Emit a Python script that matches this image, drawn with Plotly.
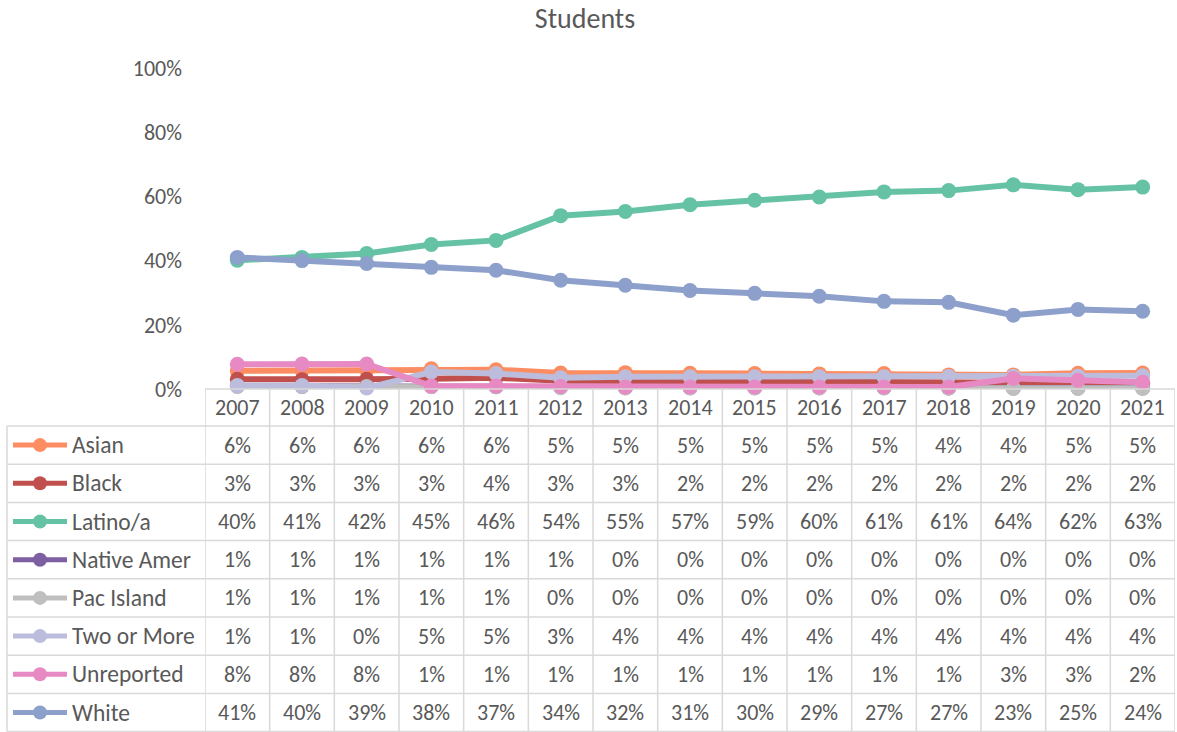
import plotly.graph_objects as go

# ---- data (values in %) ----
years = ["2007", "2008", "2009", "2010", "2011", "2012", "2013", "2014",
         "2015", "2016", "2017", "2018", "2019", "2020", "2021"]

asian = [5.7, 5.8, 5.9, 6.3, 6.0, 5.0, 5.1, 4.9, 4.8, 4.7, 4.8, 4.4, 4.4, 4.9, 5.0]
black = [3.0, 2.9, 3.0, 3.2, 3.5, 2.6, 2.5, 2.2, 2.2, 2.1, 2.1, 2.0, 1.9, 1.8, 1.8]
latino = [40.1, 41.0, 42.2, 45.0, 46.3, 54.0, 55.3, 57.4, 58.8, 59.8, 61.4, 61.8, 63.6, 62.1, 62.9]
native = [0.9, 0.8, 0.8, 0.8, 0.7, 0.6, 0.4, 0.4, 0.4, 0.4, 0.4, 0.3, 0.3, 0.3, 0.3]
pac_island = [0.8, 0.8, 0.8, 0.7, 0.7, 0.4, 0.3, 0.3, 0.3, 0.3, 0.3, 0.3, 0.2, 0.2, 0.2]
two_more = [1.1, 1.1, 0.3, 5.3, 4.8, 3.5, 3.8, 3.8, 3.8, 3.8, 3.8, 3.9, 4.0, 4.0, 4.1]
unreported = [7.7, 7.8, 7.8, 0.9, 0.9, 0.8, 0.6, 0.6, 0.6, 0.6, 0.6, 0.6, 3.3, 2.7, 2.1]
white = [41.0, 40.0, 39.1, 37.9, 37.0, 33.9, 32.3, 30.7, 29.8, 28.9, 27.3, 27.0, 23.0, 24.8, 24.2]

# table labels as printed in the chart's data table
asian_lbl = ["6%", "6%", "6%", "6%", "6%", "5%", "5%", "5%", "5%", "5%", "5%", "4%", "4%", "5%", "5%"]
black_lbl = ["3%", "3%", "3%", "3%", "4%", "3%", "3%", "2%", "2%", "2%", "2%", "2%", "2%", "2%", "2%"]
latino_lbl = ["40%", "41%", "42%", "45%", "46%", "54%", "55%", "57%", "59%", "60%", "61%", "61%", "64%", "62%", "63%"]
native_lbl = ["1%", "1%", "1%", "1%", "1%", "1%", "0%", "0%", "0%", "0%", "0%", "0%", "0%", "0%", "0%"]
pac_lbl = ["1%", "1%", "1%", "1%", "1%", "0%", "0%", "0%", "0%", "0%", "0%", "0%", "0%", "0%", "0%"]
two_lbl = ["1%", "1%", "0%", "5%", "5%", "3%", "4%", "4%", "4%", "4%", "4%", "4%", "4%", "4%", "4%"]
unrep_lbl = ["8%", "8%", "8%", "1%", "1%", "1%", "1%", "1%", "1%", "1%", "1%", "1%", "3%", "3%", "2%"]
white_lbl = ["41%", "40%", "39%", "38%", "37%", "34%", "32%", "31%", "30%", "29%", "27%", "27%", "23%", "25%", "24%"]

y_ticks = [0, 20, 40, 60, 80, 100]

series = [
    ("Asian", asian, asian_lbl, "#FC8D62"),
    ("Black", black, black_lbl, "#C0504D"),
    ("Latino/a", latino, latino_lbl, "#66C2A5"),
    ("Native Amer", native, native_lbl, "#7E5FA1"),
    ("Pac Island", pac_island, pac_lbl, "#BFBFBF"),
    ("Two or More", two_more, two_lbl, "#BCBDDC"),
    ("Unreported", unreported, unrep_lbl, "#E78AC3"),
    ("White", white, white_lbl, "#8DA0CB"),
]

W, H = 1177, 732
FONT = "Calibri, Carlito, Lato, sans-serif"
TXT = "#595959"
GRID = "#D9D9D9"
FS = 22


def py(p):
    """pixel row -> paper y"""
    return 1 - p / H


def px_(p):
    return p / W


fig = go.Figure()

for name, vals, _, col in series:
    fig.add_trace(go.Scatter(
        x=list(range(len(years))), y=vals, name=name, mode="lines+markers",
        line=dict(color=col, width=6), marker=dict(size=15, color=col),
        cliponaxis=False, hoverinfo="skip",
    ))

shapes = []
annotations = []

# table geometry (pixels)
head_top, head_bot = 389, 426
row_h = 38.2
n_rows = len(series)
table_bot = head_bot + row_h * n_rows
left = 7
right = 1175

shapes.append(dict(type="line", xref="x", yref="paper", x0=-0.5, x1=14.5,
                   y0=py(head_top), y1=py(head_top), line=dict(color=GRID, width=1.5)))
for i in range(n_rows + 1):
    yy = head_bot + row_h * i
    shapes.append(dict(type="line", xref="paper", yref="paper", x0=px_(left), x1=px_(right),
                       y0=py(yy), y1=py(yy), line=dict(color=GRID, width=1.5)))
for j in range(len(years) + 1):
    shapes.append(dict(type="line", xref="x", yref="paper", x0=j - 0.5, x1=j - 0.5,
                       y0=py(head_top), y1=py(table_bot), line=dict(color=GRID, width=1.5)))
shapes.append(dict(type="line", xref="paper", yref="paper", x0=px_(left), x1=px_(left),
                   y0=py(head_bot), y1=py(table_bot), line=dict(color=GRID, width=1.5)))

for j, yr in enumerate(years):
    annotations.append(dict(x=j, y=py((head_top + head_bot) / 2), xref="x", yref="paper",
                            text=yr, showarrow=False, xanchor="center", yanchor="middle",
                            font=dict(size=FS, color=TXT)))

for i, (name, vals, lbls, col) in enumerate(series):
    cy = head_bot + row_h * (i + 0.5)
    shapes.append(dict(type="line", xref="paper", yref="paper", x0=px_(13), x1=px_(67),
                       y0=py(cy), y1=py(cy), line=dict(color=col, width=5)))
    shapes.append(dict(type="circle", xref="paper", yref="paper", x0=px_(33), x1=px_(47),
                       y0=py(cy + 7), y1=py(cy - 7), fillcolor=col, line=dict(color=col, width=0)))
    annotations.append(dict(x=px_(70), y=py(cy), xref="paper", yref="paper", text=name,
                            xanchor="left", yanchor="middle", showarrow=False,
                            font=dict(size=23.5, color=TXT)))
    for j, lb in enumerate(lbls):
        annotations.append(dict(x=j, y=py(cy), xref="x", yref="paper", text=lb,
                                xanchor="center", yanchor="middle", showarrow=False,
                                font=dict(size=FS, color=TXT)))

fig.update_layout(
    width=W, height=H,
    margin=dict(l=0, r=0, t=0, b=0, autoexpand=False),
    paper_bgcolor="white", plot_bgcolor="white",
    font=dict(family=FONT, color=TXT, size=FS),
    title=dict(text="Students", x=585 / W, xanchor="center", y=py(18), yanchor="middle",
               font=dict(size=28, color=TXT)),
    showlegend=False,
    shapes=shapes,
    annotations=annotations,
    xaxis=dict(domain=[px_(205), px_(1175)], range=[-0.5, 14.5], showticklabels=False,
               showgrid=False, zeroline=False, showline=False, fixedrange=True),
    yaxis=dict(domain=[py(389), py(68)], range=[0, 100], tickvals=y_ticks,
               ticktext=[f"{v}%" for v in y_ticks], showgrid=False, zeroline=False,
               showline=False, ticklabelstandoff=22, tickfont=dict(size=FS, color=TXT)),
)

fig.write_html("out.html", config={"displayModeBar": False},
               post_script="document.body.style.margin='0';"
                           "document.body.style.overflow='hidden';")
